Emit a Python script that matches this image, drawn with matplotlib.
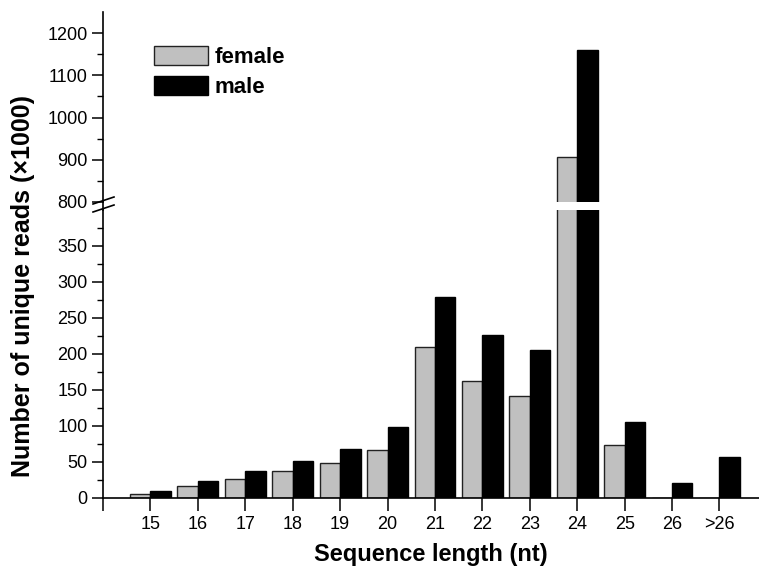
# Sequence length distribution of unique reads, female vs male, broken y axis

import matplotlib
matplotlib.use('Agg')
import matplotlib.pyplot as plt
import numpy as np

plt.rcParams['font.family'] = ['Liberation Sans', 'DejaVu Sans']

# data (values in thousands of unique reads)
lengths = ['15', '16', '17', '18', '19', '20', '21', '22', '23', '24', '25', '26', '>26']
female = [6, 17, 27, 37, 48, 67, 210, 163, 142, 906, 73, 0, 0]
male = [10, 23, 37, 51, 68, 99, 279, 227, 205, 1160, 106, 21, 57]

x = np.arange(15, 15 + len(lengths))
w = 0.43

fig = plt.figure(figsize=(7.59, 5.72), dpi=100)
W, H = 759, 572
left = 103 / W
ax_bot = fig.add_axes([left, (H - 498) / H, 1 - left, 288 / H])
ax_top = fig.add_axes([left, (H - 202) / H, 1 - left, 190 / H], sharex=ax_bot)

for ax in (ax_bot, ax_top):
    ax.bar(x - w / 2, female, w, color='#c0c0c0', edgecolor='#222222', linewidth=1.0, label='female')
    ax.bar(x + w / 2, male, w, color='black', edgecolor='black', linewidth=1.0, label='male')
    ax.spines['top'].set_visible(False)
    ax.spines['right'].set_visible(False)
    ax.spines['left'].set_linewidth(1.2)
    ax.spines['bottom'].set_linewidth(1.2)
    ax.tick_params(axis='y', which='major', direction='out', length=8, width=1.1, labelsize=13, pad=3)
    ax.tick_params(axis='y', which='minor', direction='out', length=4, width=1.0)
    ax.set_facecolor('none')

ax_bot.set_ylim(0, 400)
ax_top.set_ylim(800, 1250)
ax_bot.set_yticks(np.arange(0, 351, 50))
ax_bot.set_yticks(np.arange(25, 400, 25), minor=True)
ax_top.set_yticks(np.arange(800, 1201, 100))
ax_top.set_yticks(np.arange(850, 1250, 100), minor=True)

ax_bot.set_xlim(14, 14 + 655 / 47.35)
ax_bot.set_xticks([14] + list(x))
ax_bot.set_xticklabels([''] + lengths)
ax_bot.tick_params(axis='x', direction='out', length=9, width=1.1, labelsize=13, pad=4)

ax_top.spines['bottom'].set_visible(False)
ax_top.tick_params(axis='x', which='both', bottom=False, labelbottom=False)

# continuous left axis through the break, with // marks
fig.add_artist(plt.Line2D([left, left], [(H - 210) / H, (H - 202) / H], color='black', lw=1.2))
for dy in (0, 8):
    fig.add_artist(plt.Line2D([93 / W, 114 / W], [(H - (204 + dy)) / H, (H - (197 + dy)) / H],
                              color='black', lw=1.2))

ax_top.legend(loc='upper left', bbox_to_anchor=(0.077, 0.82), frameon=False,
              prop={'weight': 'bold', 'size': 16}, handlelength=2.45, handleheight=0.95,
              handletextpad=0.3, labelspacing=0.35, borderpad=0, borderaxespad=0)

fig.text(0.03, 0.50, 'Number of unique reads (\u00d71000)', rotation=90, ha='center', va='center',
         fontsize=18, fontweight='bold')
fig.text((left + 1) / 2, 0.03, 'Sequence length (nt)', ha='center', va='center',
         fontsize=17, fontweight='bold')

fig.savefig('out.png', dpi=100)
